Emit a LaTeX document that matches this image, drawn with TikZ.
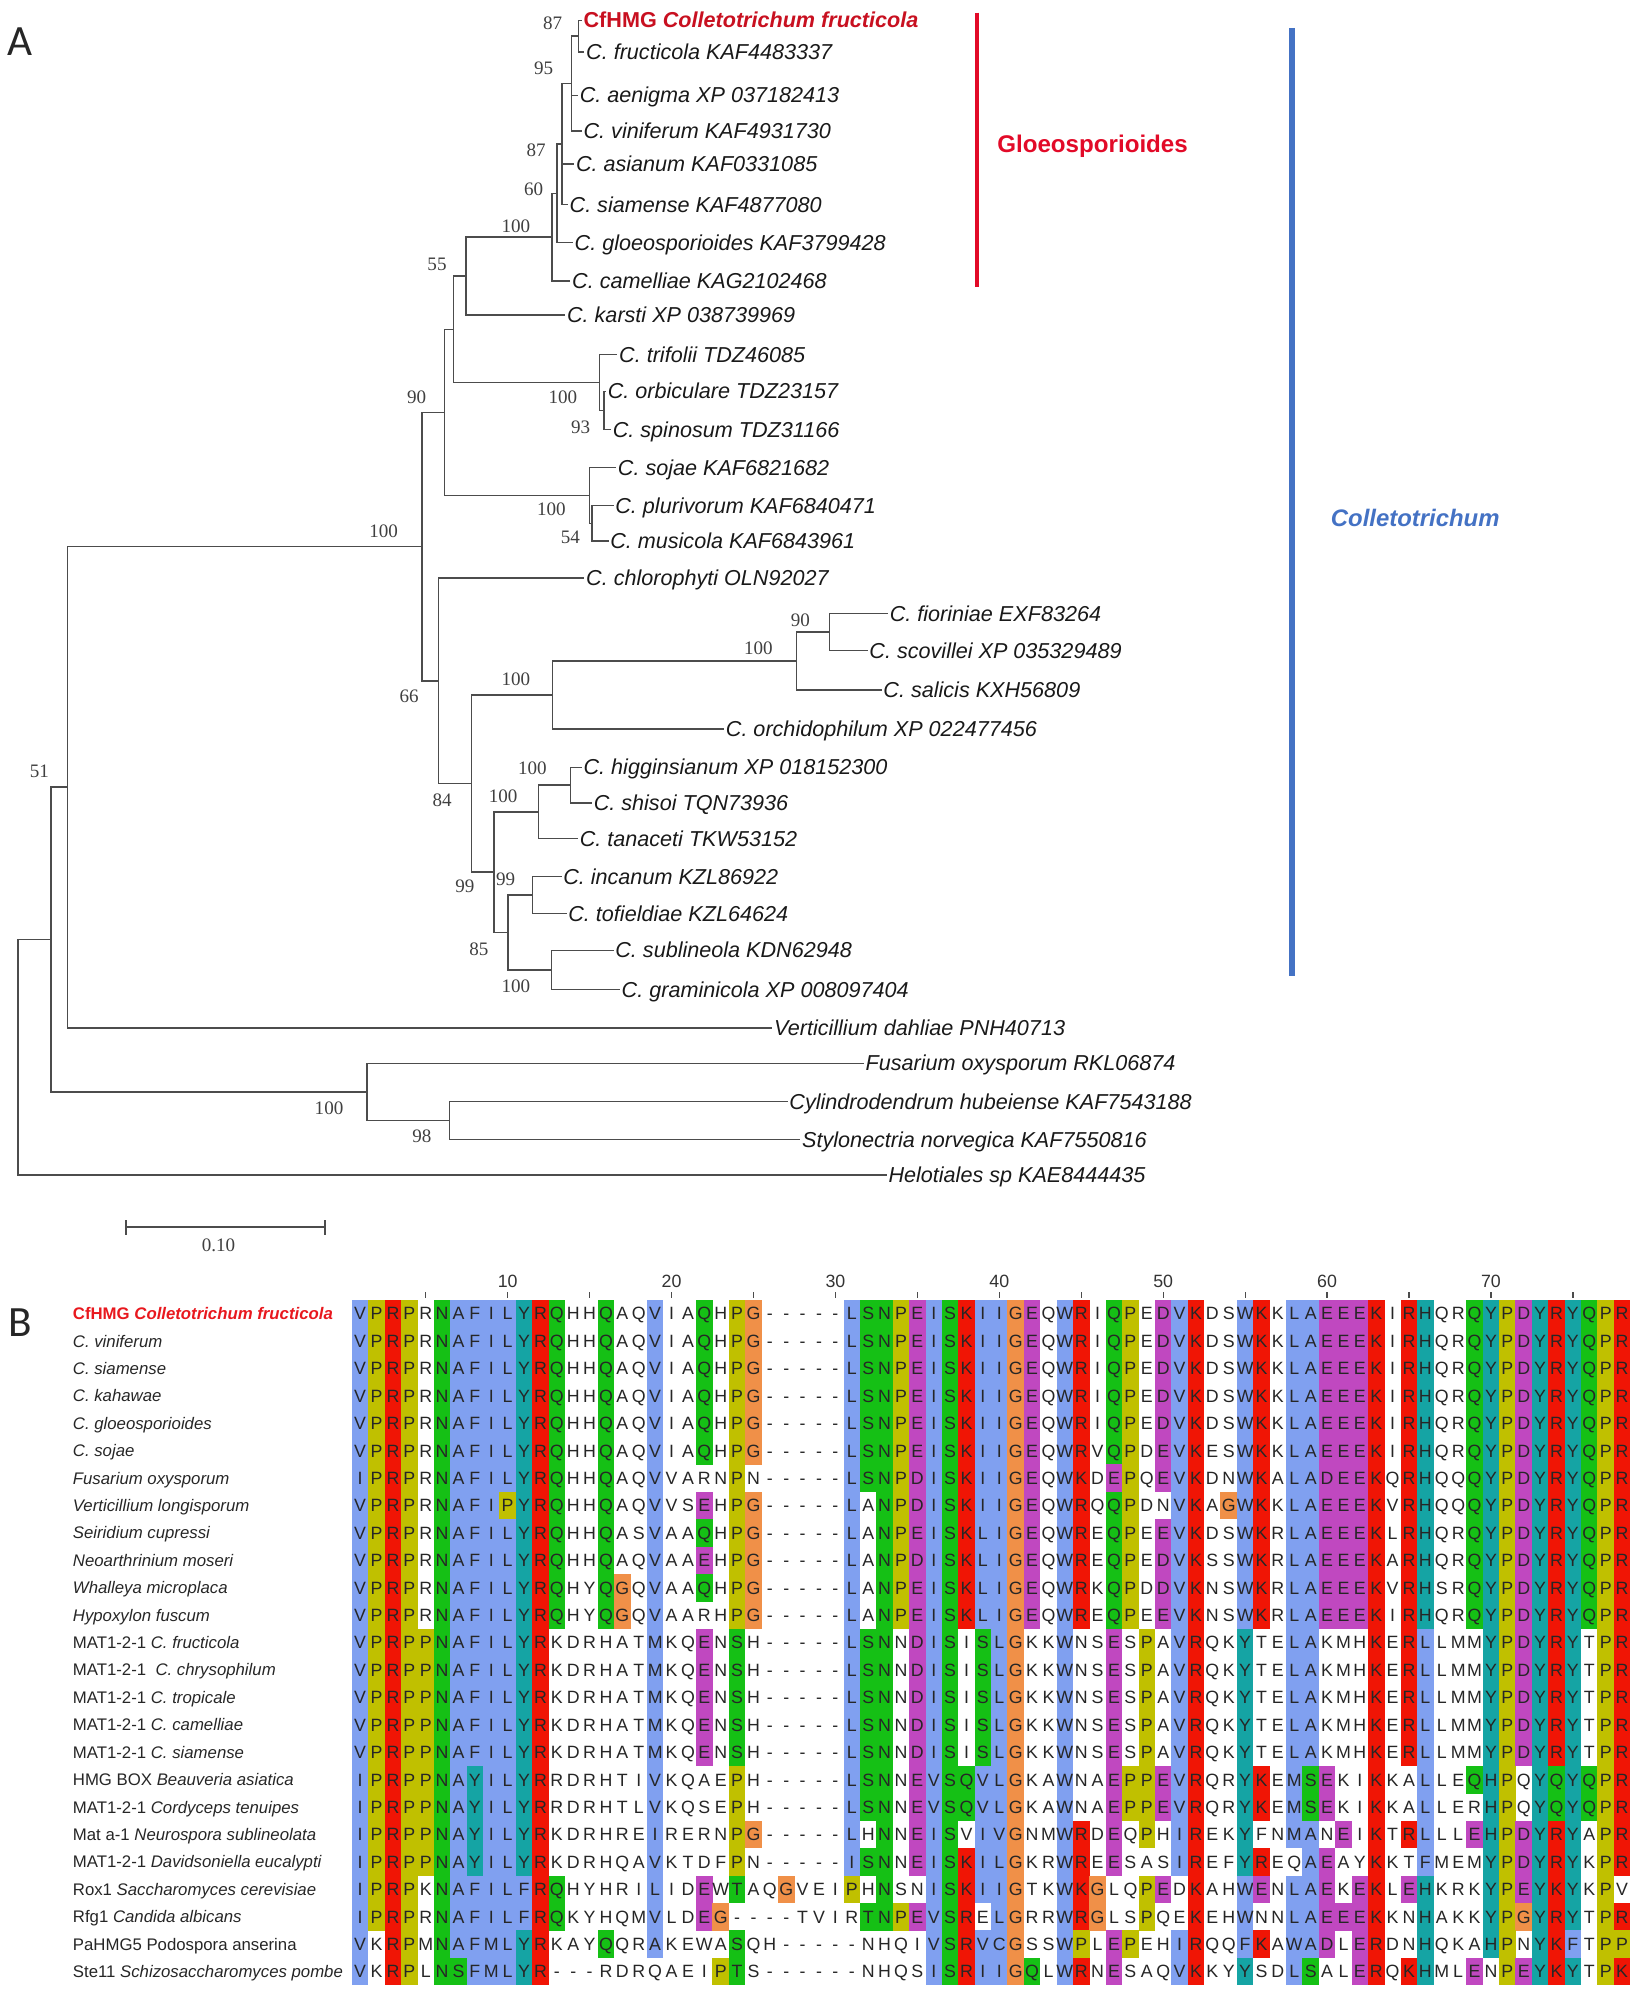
\documentclass[tikz,border=0pt]{standalone}
\usepackage{fontspec}
\setmainfont{Liberation Sans}
\newfontfamily\bsfont{Liberation Serif}
\newfontfamily\panelfont{Carlito}
\usetikzlibrary{positioning}

\definecolor{treered}{RGB}{200,16,32}
\definecolor{alnred}{RGB}{232,24,30}
\definecolor{gloered}{RGB}{226,10,40}
\definecolor{colblue}{RGB}{68,114,196}
% clustal colours
\definecolor{clb}{RGB}{128,160,240}
\definecolor{clr}{RGB}{240,21,5}
\definecolor{clm}{RGB}{192,72,192}
\definecolor{clg}{RGB}{21,192,21}
\definecolor{clc}{RGB}{21,164,164}
\definecolor{clo}{RGB}{240,144,72}
\definecolor{cly}{RGB}{192,192,0}

% one residue: row, column, letter, colour code (w = no colour)
\newcommand\alncell[4]{%
  \if w#4\else
    \fill[fill=cl#4] ({277.0+12.9*(#2-1)},{1023.21+21.58*(#1-1)}) rectangle +(13.0,21.7);%
  \fi
  \node[res] (c#1-#2) at ({283.5+12.9*(#2-1)},{1034+21.58*(#1-1)}) {#3};}

\ExplSyntaxOn
\cs_new_protected:Npn \aln_cell:nnnn #1#2#3#4 { \alncell {#1} {#2} {#3} {#4} }
\cs_generate_variant:Nn \aln_cell:nnnn { nnee }
\NewDocumentCommand \alnrow { m m m }
  {
    \int_step_inline:nn { \str_count:n {#2} }
      { \aln_cell:nnee {#1} {##1} { \str_item:nn {#2} {##1} } { \str_item:nn {#3} {##1} } }
  }
\ExplSyntaxOff

\begin{document}
\begin{tikzpicture}[x=0.5pt,y=-0.5pt,
        br/.style={line width=0.6pt,draw=black!70},
        leaf/.style={anchor=west,inner sep=0.5pt,text height=6pt,text depth=0pt,text=black!90,font=\fontsize{8.5}{10}\selectfont\itshape},
        bs/.style={inner sep=0pt,text=black!75,font=\bsfont\fontsize{7.5}{9}\selectfont},
        alnlab/.style={anchor=west,inner sep=0pt,text height=4.7pt,text depth=0pt,text=black!85,font=\fontsize{6.6}{8}\selectfont},
        res/.style={inner sep=0pt,text height=5pt,text depth=0pt,text=black!85,font=\fontsize{7}{8}\selectfont},
        ruler/.style={inner sep=0pt,text=black!80,font=\fontsize{7}{8}\selectfont},
        panel/.style={inner sep=0pt,text=black!85,font=\panelfont\fontsize{17}{20}\selectfont}]
        \useasboundingbox (0,0) rectangle (1292,1568);

        \node[panel] (pA) at (16,33) {A};
        \node[panel] (pB) at (16,1041) {B};

        % leaves
        \node[leaf] (cfh) at (458,16) {\textcolor{treered}{\upshape\bfseries CfHMG \itshape Colletotrichum fructicola}};
        \node[leaf] (fru) at (460,41) {C. fructicola KAF4483337};
        \node[leaf] (aen) at (455,75) {C. aenigma XP 037182413};
        \node[leaf] (vin) at (458,103) {C. viniferum KAF4931730};
        \node[leaf] (asi) at (452,129) {C. asianum KAF0331085};
        \node[leaf] (sia) at (447,161) {C. siamense KAF4877080};
        \node[leaf] (glo) at (451,191) {C. gloeosporioides KAF3799428};
        \node[leaf] (cam) at (449,221) {C. camelliae KAG2102468};
        \node[leaf] (kar) at (445,248) {C. karsti XP 038739969};
        \node[leaf] (tri) at (486,279) {C. trifolii TDZ46085};
        \node[leaf] (orb) at (477,308) {C. orbiculare TDZ23157};
        \node[leaf] (spi) at (481,338) {C. spinosum TDZ31166};
        \node[leaf] (soj) at (485,368) {C. sojae KAF6821682};
        \node[leaf] (plu) at (483,398) {C. plurivorum KAF6840471};
        \node[leaf] (mus) at (479,426) {C. musicola KAF6843961};
        \node[leaf] (chl) at (460,455) {C. chlorophyti OLN92027};
        \node[leaf] (fio) at (699,483) {C. fioriniae EXF83264};
        \node[leaf] (sco) at (683,512) {C. scovillei XP 035329489};
        \node[leaf] (sal) at (694,543) {C. salicis KXH56809};
        \node[leaf] (orc) at (570,574) {C. orchidophilum XP 022477456};
        \node[leaf] (hig) at (458,604) {C. higginsianum XP 018152300};
        \node[leaf] (shi) at (466,632) {C. shisoi TQN73936};
        \node[leaf] (tan) at (455,660) {C. tanaceti TKW53152};
        \node[leaf] (inc) at (442,690) {C. incanum KZL86922};
        \node[leaf] (tof) at (446,719) {C. tofieldiae KZL64624};
        \node[leaf] (sub) at (483,748) {C. sublineola KDN62948};
        \node[leaf] (gra) at (488,779) {C. graminicola XP 008097404};
        \node[leaf] (ver) at (608,809) {Verticillium dahliae PNH40713};
        \node[leaf] (fus) at (680,837) {Fusarium oxysporum RKL06874};
        \node[leaf] (cyl) at (620,867) {Cylindrodendrum hubeiense KAF7543188};
        \node[leaf] (sty) at (630,897) {Stylonectria norvegica KAF7550816};
        \node[leaf] (hel) at (698,925) {Helotiales sp KAE8444435};

        % inner nodes
        \coordinate (nA) at (455.5,28.5);
        \coordinate (nC) at (450,65.75);
        \coordinate (n87) at (442.5,113.4);
        \coordinate (n60) at (438.5,152.2);
        \coordinate (nF) at (434.5,186.6);
        \coordinate (n55) at (367,217.3);
        \coordinate (nOS) at (475.5,323);
        \coordinate (nT) at (472,301);
        \coordinate (n57) at (357,259.2);
        \coordinate (nPM) at (466,412);
        \coordinate (nS) at (464,390);
        \coordinate (n90) at (350,324.6);
        \coordinate (nFS) at (653,497.5);
        \coordinate (nFSS) at (627,520.25);
        \coordinate (nB) at (435,547.1);
        \coordinate (nHS) at (449,618);
        \coordinate (nHST) at (424,639);
        \coordinate (nIT) at (419,704.5);
        \coordinate (nSG) at (434,763.5);
        \coordinate (n85) at (400,734);
        \coordinate (n99) at (389,686.5);
        \coordinate (n84) at (371,616.8);
        \coordinate (n66) at (345,535.9);
        \coordinate (nCol) at (332,430.3);
        \coordinate (n52) at (53,619.6);
        \coordinate (n98) at (354,882);
        \coordinate (nFu) at (289,859.5);
        \coordinate (n51) at (40,739.6);
        \coordinate (nR) at (14,832.3);

        % branches
        \draw[br] (nA) |- (cfh.west) (nA) |- (fru.west);
        \draw[br] (nC) |- (nA) (nC) |- (aen.west) (nC) |- (vin.west);
        \draw[br] (n87) |- (nC) (n87) |- (asi.west) (n87) |- (sia.west);
        \draw[br] (n60) |- (n87) (n60) |- (glo.west);
        \draw[br] (nF) |- (n60) (nF) |- (cam.west);
        \draw[br] (n55) |- (nF) (n55) |- (kar.west);
        \draw[br] (nOS) |- (orb.west) (nOS) |- (spi.west);
        \draw[br] (nT) |- (tri.west) (nT) |- (nOS);
        \draw[br] (n57) |- (n55) (n57) |- (nT);
        \draw[br] (nPM) |- (plu.west) (nPM) |- (mus.west);
        \draw[br] (nS) |- (soj.west) (nS) |- (nPM);
        \draw[br] (n90) |- (n57) (n90) |- (nS);
        \draw[br] (nFS) |- (fio.west) (nFS) |- (sco.west);
        \draw[br] (nFSS) |- (nFS) (nFSS) |- (sal.west);
        \draw[br] (nB) |- (nFSS) (nB) |- (orc.west);
        \draw[br] (nHS) |- (hig.west) (nHS) |- (shi.west);
        \draw[br] (nHST) |- (nHS) (nHST) |- (tan.west);
        \draw[br] (nIT) |- (inc.west) (nIT) |- (tof.west);
        \draw[br] (nSG) |- (sub.west) (nSG) |- (gra.west);
        \draw[br] (n85) |- (nIT) (n85) |- (nSG);
        \draw[br] (n99) |- (nHST) (n99) |- (n85);
        \draw[br] (n84) |- (nB) (n84) |- (n99);
        \draw[br] (n66) |- (chl.west) (n66) |- (n84);
        \draw[br] (nCol) |- (n90) (nCol) |- (n66);
        \draw[br] (n52) |- (nCol) (n52) |- (ver.west);
        \draw[br] (n98) |- (cyl.west) (n98) |- (sty.west);
        \draw[br] (nFu) |- (fus.west) (nFu) |- (n98);
        \draw[br] (n51) |- (n52) (n51) |- (nFu);
        \draw[br] (nR) |- (n51) (nR) |- (hel.west);

        % bootstrap values
        \foreach \x/\y/\t [count=\i] in {435/18/87, 428/54/95, 422/118/87, 420/149/60, 406/178/100,
                344/208/55, 443/313/100, 457/336/93, 328/313/90, 434/401/100, 449/423/54,
                302/418/100, 630/488/90, 597/510/100, 406/535/100, 322/548/66, 419/605/100,
                396/627/100, 348/630/84, 398/692/99, 366/698/99, 377/747/85, 406/776/100,
                31/607/51, 259/872/100, 332/894/98}
            \node[bs] (bs\i) at (\x,\y) {\t};

        % scale bar
        \coordinate (sbL) at (99,966);
        \coordinate (sbR) at (256,966);
        \draw[br] (sbL) -- (sbR);
        \draw[br] ([yshift=-3pt]sbL) -- ([yshift=3pt]sbL);
        \draw[br] ([yshift=-3pt]sbR) -- ([yshift=3pt]sbR);
        \node[bs] (sblab) at (172,980) {0.10};

        % clade bars
        \coordinate (gtop) at (769,10);
        \coordinate (gbot) at (769,226);
        \draw[gloered,line width=1.3pt] (gtop) -- (gbot);
        \node[text=gloered,font=\fontsize{9.5}{11}\selectfont\bfseries] (glab) at (860,115) {Gloeosporioides};
        \coordinate (ctop) at (1017,22);
        \coordinate (cbot) at (1017,768);
        \draw[colblue,line width=2.4pt] (ctop) -- (cbot);
        \node[text=colblue,font=\fontsize{9.4}{11}\selectfont\bfseries\itshape] (clab) at (1114,408) {Colletotrichum};

        % alignment names
        \foreach \lab [count=\i] in {{\textcolor{alnred}{\bfseries CfHMG \itshape Colletotrichum fructicola}},
                \textit{C. viniferum}, \textit{C. siamense}, \textit{C. kahawae}, \textit{C. gloeosporioides},
                \textit{C. sojae}, \textit{Fusarium oxysporum}, \textit{Verticillium longisporum},
                \textit{Seiridium cupressi}, \textit{Neoarthrinium moseri}, \textit{Whalleya microplaca},
                \textit{Hypoxylon fuscum}, MAT1-2-1 \textit{C. fructicola}, MAT1-2-1 \ \textit{C. chrysophilum},
                MAT1-2-1 \textit{C. tropicale}, MAT1-2-1 \textit{C. camelliae}, MAT1-2-1 \textit{C. siamense},
                HMG BOX \textit{Beauveria asiatica}, MAT1-2-1 \textit{Cordyceps tenuipes},
                Mat a-1 \textit{Neurospora sublineolata}, MAT1-2-1 \textit{Davidsoniella eucalypti},
                Rox1 \textit{Saccharomyces cerevisiae}, Rfg1 \textit{Candida albicans},
                PaHMG5 Podospora anserina, Ste11 \textit{Schizosaccharomyces pombe}}
            \node[alnlab] (lab\i) at (57,{1034+21.58*(\i-1)}) {\lab};

        % ruler
        \foreach \c in {5,10,...,75}
            \draw[black!70,line width=0.5pt] ({283.5+12.9*(\c-1)},1017) -- ({283.5+12.9*(\c-1)},1022);
        \foreach \c in {10,20,...,70}
            \node[ruler] (num\c) at ({283.5+12.9*(\c-1)},1009) {\c};

        % residues
        \alnrow{1}{VPRPRNAFILYRQHHQAQVIAQHPG-----LSNPEISKIIGEQWRIQPEDVKDSWKKLAEEEKIRHQRQYPDYRYQPR}{byrywgbbbbcrgwwgwwbwwgwyowwwwwbggymbgrbbomwbrwgywmbrwwbrwbbmmmrwrcwwgcymcrcgyr}
        \alnrow{2}{VPRPRNAFILYRQHHQAQVIAQHPG-----LSNPEISKIIGEQWRIQPEDVKDSWKKLAEEEKIRHQRQYPDYRYQPR}{byrywgbbbbcrgwwgwwbwwgwyowwwwwbggymbgrbbomwbrwgywmbrwwbrwbbmmmrwrcwwgcymcrcgyr}
        \alnrow{3}{VPRPRNAFILYRQHHQAQVIAQHPG-----LSNPEISKIIGEQWRIQPEDVKDSWKKLAEEEKIRHQRQYPDYRYQPR}{byrywgbbbbcrgwwgwwbwwgwyowwwwwbggymbgrbbomwbrwgywmbrwwbrwbbmmmrwrcwwgcymcrcgyr}
        \alnrow{4}{VPRPRNAFILYRQHHQAQVIAQHPG-----LSNPEISKIIGEQWRIQPEDVKDSWKKLAEEEKIRHQRQYPDYRYQPR}{byrywgbbbbcrgwwgwwbwwgwyowwwwwbggymbgrbbomwbrwgywmbrwwbrwbbmmmrwrcwwgcymcrcgyr}
        \alnrow{5}{VPRPRNAFILYRQHHQAQVIAQHPG-----LSNPEISKIIGEQWRIQPEDVKDSWKKLAEEEKIRHQRQYPDYRYQPR}{byrywgbbbbcrgwwgwwbwwgwyowwwwwbggymbgrbbomwbrwgywmbrwwbrwbbmmmrwrcwwgcymcrcgyr}
        \alnrow{6}{VPRPRNAFILYRQHHQAQVIAQHPG-----LSNPEISKIIGEQWRVQPDEVKESWKKLAEEEKIRHQRQYPDYRYQPR}{byrywgbbbbcrgwwgwwbwwgwyowwwwwbggymbgrbbomwbrwgywmbrwwbrwbbmmmrwrcwwgcymcrcgyr}
        \alnrow{7}{IPRPRNAFILYRQHHQAQVVARNPN-----LSNPDISKIIGEQWKDEPQEVKDNWKALADEEKQRHQQQYPDYRYQPR}{byrywgbbbbcrgwwgwwbwwwwywwwwwwbggymbgrbbomwbrwmywmbrwwbrwbbmmmrwrcwwgcymcrcgyr}
        \alnrow{8}{VPRPRNAFIPYRQHHQAQVVSEHPG-----LANPDISKIIGEQWRQQPDNVKAGWKKLAEEEKVRHQQQYPDYRYQPR}{byrywgbbbycrgwwgwwbwwmwyowwwwwbwgymbgrbbomwbrwgywwbrwobrwbbmmmrwrcwwgcymcrcgyr}
        \alnrow{9}{VPRPRNAFILYRQHHQASVAAQHPG-----LANPEISKLIGEQWREQPEEVKDSWKRLAEEEKLRHQRQYPDYRYQPR}{byrywgbbbbcrgwwgwwbwwgwyowwwwwbwgymbgrbbomwbrwgywmbrwwbrwbbmmmrwrcwwgcymcrcgyr}
        \alnrow{10}{VPRPRNAFILYRQHHQAQVAAEHPG-----LANPDISKLIGEQWREQPEDVKSSWKRLAEEEKARHQRQYPDYRYQPR}{byrywgbbbbcrgwwgwwbwwmwyowwwwwbwgymbgrbbomwbrwgywmbrwwbrwbbmmmrwrcwwgcymcrcgyr}
        \alnrow{11}{VPRPRNAFILYRQHYQGQVAAQHPG-----LANPEISKLIGEQWRKQPDDVKNSWKRLAEEEKVRHSRQYPDYRYQPR}{byrywgbbbbcrgwwgowbwwgwyowwwwwbwgymbgrbbomwbrwgywmbrwwbrwbbmmmrwrcwwgcymcrcgyr}
        \alnrow{12}{VPRPRNAFILYRQHYQGQVAARHPG-----LANPEISKLIGEQWREQPEEVKNSWKRLAEEEKIRHQRQYPDYRYQPR}{byrywgbbbbcrgwwgowbwwwwyowwwwwbwgymbgrbbomwbrwgywmbrwwbrwbbmmmrwrcwwgcymcrcgyr}
        \alnrow{13}{VPRPPNAFILYRKDRHATMKQENSH-----LSNNDISISLGKKWNSESPAVRQKYTELAKMHKERLLMMYPDYRYTPR}{byryygbbbbcrwwwwwwbwwmwgwwwwwwbggwmbgwgbowwbwwmwywbrwwcwwbbwwwrwrbwwwcymcrcwyr}
        \alnrow{14}{VPRPPNAFILYRKDRHATMKQENSH-----LSNNDISISLGKKWNSESPAVRQKYTELAKMHKERLLMMYPDYRYTPR}{byryygbbbbcrwwwwwwbwwmwgwwwwwwbggwmbgwgbowwbwwmwywbrwwcwwbbwwwrwrbwwwcymcrcwyr}
        \alnrow{15}{VPRPPNAFILYRKDRHATMKQENSH-----LSNNDISISLGKKWNSESPAVRQKYTELAKMHKERLLMMYPDYRYTPR}{byryygbbbbcrwwwwwwbwwmwgwwwwwwbggwmbgwgbowwbwwmwywbrwwcwwbbwwwrwrbwwwcymcrcwyr}
        \alnrow{16}{VPRPPNAFILYRKDRHATMKQENSH-----LSNNDISISLGKKWNSESPAVRQKYTELAKMHKERLLMMYPDYRYTPR}{byryygbbbbcrwwwwwwbwwmwgwwwwwwbggwmbgwgbowwbwwmwywbrwwcwwbbwwwrwrbwwwcymcrcwyr}
        \alnrow{17}{VPRPPNAFILYRKDRHATMKQENSH-----LSNNDISISLGKKWNSESPAVRQKYTELAKMHKERLLMMYPDYRYTPR}{byryygbbbbcrwwwwwwbwwmwgwwwwwwbggwmbgwgbowwbwwmwywbrwwcwwbbwwwrwrbwwwcymcrcwyr}
        \alnrow{18}{IPRPPNAYILYRRDRHTIVKQAEPH-----LSNNEVSQVLGKAWNAEPPEVRQRYKEMSEKIKKALLEQHPQYQYQPR}{byryygbcbbcrwwwwwwbwwwwywwwwwwbggwmbggbbowwbwwmyymbrwwcrwbgmwwrwwbwwgcywcgcgyr}
        \alnrow{19}{IPRPPNAYILYRRDRHTLVKQSEPH-----LSNNEVSQVLGKAWNAEPPEVRQRYKEMSEKIKKALLERHPQYQYQPR}{byryygbcbbcrwwwwwwbwwwwywwwwwwbggwmbggbbowwbwwmyymbrwwcrwbgmwwrwwbwwwcywcgcgyr}
        \alnrow{20}{IPRPPNAYILYRKDRHREIRERNPG-----LHNNEISVIVGNMWRDEQPHIREKYFNMANEIKTRLLLEHPDYRYAPR}{byryygbcbbcrwwwwwwbwwwwyowwwwwbwgwmbgwbbowwbrwmwywbrwwcwwbbwmwrwrbwwmcymcrcwyr}
        \alnrow{21}{IPRPPNAYILYRKDRHQAVKTDFPN-----ISNNEISKILGKRWREESASIREFYREQAEAYKKTFMEMYPDYRYKPR}{byryygbcbbcrwwwwwwbwwwwywwwwwwbggwmbgrbbowwbrwmwwwbrwwcrwwbmwwrwwbwwwcymcrcwyr}
        \alnrow{22}{IPRPKNAFILFRQHYHRILIDEWTAQGVEIPHNSNISKIIGTKWKGLQPEDKAHWENLAEKEKLEHKRKYPEYKYKPV}{byrywgbbbbbrgwwwwwbwwmwgwwowwwywgwwbgrbbowwbrowwymwrwwbmwbbmwmrwmcwwwcymcrcwyw}
        \alnrow{23}{IPRPRNAFILFRQKYHQMVLDEG----TVIRTNPEVSRELGRRWRGLSPQEKEHWNNLAEEEKKNHAKKYPGYRYTPR}{byrywgbbbbbrgwwwwwbwwmowwwwwwwwggymbgrwbowwbrowwywwrwwbwwbbmmmrwwcwwwcyocrcwyr}
        \alnrow{24}{VKRPMNAFMLYRKAYQQRAKEWASQH-----NHQIVSRVCGSSWPLEPEHIRQQFKAWADLERDNHQKAHPNYKFTPP}{bwrywgbbbbcrwwwgwwbwwwwgwwwwwwwwwwwbgrbbowwbywmywwbrwwbrwbbmwmrwwcwwwcywcrbwyy}
        \alnrow{25}{VKRPLNSFMLYR---RDRQAEIPTS------NHQSISRIIGQLWRNESAQVKKYYSDLSALERQKHMLENPEYKYTPK}{bwrywggbbbcrwwwwwwwwwwygwwwwwwwwwwwbgrbbogwbrwmwwwbrwwcwwbgwwmrwrcwwmwymcrcwyr}
\end{tikzpicture}
\end{document}
